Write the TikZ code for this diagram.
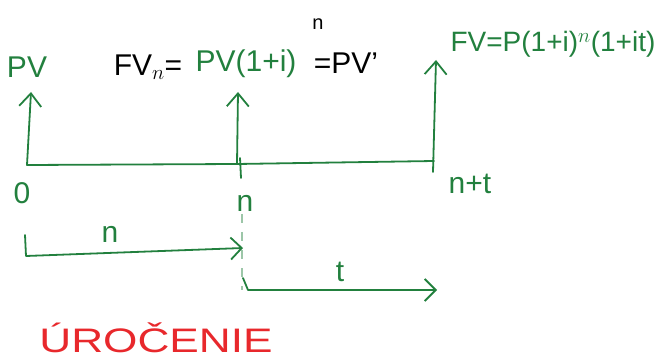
\documentclass[tikz,border=0pt]{standalone}
\usepackage{fontspec}
\setmainfont{Liberation Sans}
\usetikzlibrary{arrows.meta}
\definecolor{pen}{RGB}{34,128,62}
\definecolor{redpen}{RGB}{232,40,44}
\begin{document}
\begin{tikzpicture}[x=1pt,y=-1pt,
  ink/.style={draw=pen, line width=1.8pt, line cap=round, line join=round},
  uparrow/.style={ink, -{Straight Barb[length=13pt,width=22pt,line width=1.8pt]}},
  rarrow/.style={ink, -{Straight Barb[length=11pt,width=22pt,line width=1.8pt]}},
  lbl/.style={text=pen, font=\fontsize{30}{32}\selectfont, inner sep=0pt},
  blk/.style={lbl, text=black},
  small/.style={lbl, font=\fontsize{28}{30}\selectfont},
  guide/.style={draw=pen!45, line width=1.2pt, dash pattern=on 9pt off 9pt}]
\useasboundingbox (0,0) rectangle (664,358);

% time points
\coordinate (t0) at (27,165);
\coordinate (tn) at (237,164);
\coordinate (tnt) at (434,161);
\coordinate (tntlow) at (433,172);

% arrow tips
\coordinate (tip0) at (31,92);
\coordinate (tipn) at (238,92);
\coordinate (tipnt) at (436,60);

% labels above
\node[lbl] (pv) at (27,67) {PV};
\node[blk] (fvn) at (148,67) {FV$_n$=};
\node[lbl] (pvi) at (246,64) {PV(1+i)};
\node[blk, font=\fontsize{20}{22}\selectfont] (sup) at (318,24) {n};
\node[blk] (pvp) at (346,63) {=PV'};
\node[small] (fv) at (553,44) {FV=P(1+i)$^n$(1+it)};

% timeline
\draw[ink] (t0) -- (tn) -- (tnt);
\draw[uparrow] (t0) -- (tip0);
\draw[uparrow] (tn) -- (tipn);
\draw[uparrow] (tntlow) -- (tipnt);
\coordinate (tickA) at (240,158);
\coordinate (tickB) at (241,178);
\draw[ink] (tickA) -- (tickB);

% labels below
\node[lbl] (zero) at (22,193) {0};
\node[lbl] (nlab) at (245,203) {n};
\node[lbl] (ntlab) at (470,184) {n+t};

% guide
\coordinate (g1) at (242,214);
\coordinate (g2) at (242,290);
\draw[guide] (g1) -- (g2);

% brackets
\coordinate (a1) at (25,235);
\coordinate (a2) at (26,256);
\coordinate (a3) at (243,248);
\draw[rarrow] (a1) -- (a2) -- (a3);
\node[lbl] (nbr) at (110,234) {n};

\coordinate (b1) at (243,278);
\coordinate (b2) at (248,290);
\coordinate (b3) at (437,290);
\draw[rarrow] (b1) -- (b2) -- (b3);
\node[lbl] (tbr) at (340,272) {t};

% red caption
\node[text=redpen, font=\fontsize{34}{36}\selectfont, inner sep=0pt, anchor=base] (uro) at (156,352) {\scalebox{1.3}[1]{ÚROČENIE}};
\end{tikzpicture}
\end{document}
